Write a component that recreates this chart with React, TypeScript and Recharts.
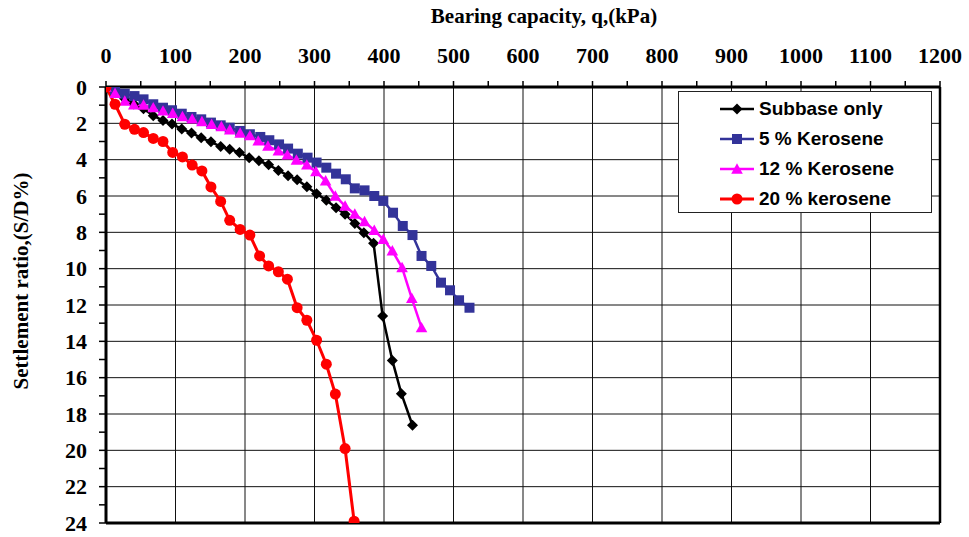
import React from 'react'
import { LineChart, Line, XAxis, YAxis, CartesianGrid, ReferenceLine } from 'recharts'

// bearing capacity q (kPa) / settlement ratio S/D (%)
const subbaseQ = [0, 14, 27, 40, 54, 68, 82, 95, 109, 123, 137, 151, 165, 178, 192, 206, 220, 234, 248, 262, 275, 289, 303, 317, 331, 344, 358, 371, 385, 398, 412, 425, 441]
const subbaseS = [0, 0.3, 0.65, 0.94, 1.2, 1.58, 1.85, 2.04, 2.31, 2.53, 2.8, 3.02, 3.28, 3.42, 3.6, 3.9, 4.06, 4.28, 4.59, 4.88, 5.1, 5.49, 5.87, 6.23, 6.64, 7.0, 7.52, 8.02, 8.6, 12.6, 15.05, 16.88, 18.62]

const k5Q = [0, 13, 27, 41, 54, 68, 82, 95, 109, 123, 137, 151, 165, 178, 193, 207, 222, 235, 249, 262, 276, 290, 303, 317, 331, 345, 358, 372, 386, 399, 413, 427, 441, 454, 468, 482, 495, 508, 523]
const k5S = [0, 0.18, 0.37, 0.5, 0.68, 0.95, 1.14, 1.28, 1.47, 1.65, 1.78, 1.96, 2.11, 2.24, 2.42, 2.6, 2.75, 2.93, 3.16, 3.39, 3.67, 3.89, 4.16, 4.44, 4.77, 5.08, 5.58, 5.69, 6.0, 6.27, 6.92, 7.65, 8.15, 9.3, 9.85, 10.77, 11.19, 11.74, 12.15]

const k12Q = [0, 13, 27, 40, 54, 68, 82, 96, 110, 124, 138, 152, 166, 178, 193, 207, 219, 233, 248, 261, 274, 289, 302, 316, 330, 344, 358, 372, 386, 399, 412, 426, 440, 454]
const k12S = [0, 0.35, 0.78, 0.98, 1.0, 1.14, 1.32, 1.45, 1.63, 1.76, 1.9, 2.05, 2.18, 2.36, 2.54, 2.68, 2.97, 3.25, 3.52, 3.74, 4.02, 4.29, 4.66, 5.17, 6.0, 6.55, 7.0, 7.41, 7.89, 8.38, 9.02, 9.94, 11.63, 13.25]

const k20Q = [0, 13, 27, 41, 54, 68, 82, 96, 110, 124, 138, 151, 165, 178, 193, 207, 221, 234, 248, 261, 275, 289, 303, 317, 330, 344, 357]
const k20S = [0, 0.95, 2.05, 2.33, 2.51, 2.83, 3.0, 3.6, 3.85, 4.3, 4.62, 5.5, 6.3, 7.34, 7.84, 8.15, 9.3, 9.85, 10.17, 10.58, 12.15, 12.84, 13.94, 15.26, 16.9, 19.9, 23.9]

const xTicks = [0, 50, 100, 150, 200, 250, 300, 350, 400, 450, 500, 550, 600, 650, 700, 750, 800, 850, 900, 950, 1000, 1050, 1100, 1150, 1200]
const yTicks = [0, 1, 2, 3, 4, 5, 6, 7, 8, 9, 10, 11, 12, 13, 14, 15, 16, 17, 18, 19, 20, 21, 22, 23, 24]
const gridX = [100, 200, 300, 400, 500, 600, 700, 800, 900, 1000, 1100]
const gridY = [2, 4, 6, 8, 10, 12, 14, 16, 18, 20, 22]

const pair = (q: number[], s: number[]) => q.map((v, i) => ({ q: v, s: s[i] }))

const C = { black: '#000000', blue: '#333399', pink: '#ff00ff', red: '#ff0000' }
const serif = '"Liberation Serif", "Times New Roman", serif'
const sans = '"Liberation Sans", Arial, sans-serif'

const diamond = (color: string, r = 5.5) => (p: any) => (
  <polygon key={p.index} points={`${p.cx},${p.cy - r} ${p.cx + r},${p.cy} ${p.cx},${p.cy + r} ${p.cx - r},${p.cy}`} fill={color} />
)
const square = (color: string, h = 5) => (p: any) => (
  <rect key={p.index} x={p.cx - h} y={p.cy - h} width={h * 2} height={h * 2} fill={color} />
)
const triangle = (color: string, h = 5.8) => (p: any) => (
  <polygon key={p.index} points={`${p.cx},${p.cy - h} ${p.cx + h},${p.cy + h * 0.8} ${p.cx - h},${p.cy + h * 0.8}`} fill={color} />
)
const circle = (color: string, r = 5.5) => (p: any) => (
  <circle key={p.index} cx={p.cx} cy={p.cy} r={r} fill={color} />
)

const series = [
  { name: 'Subbase only', data: pair(subbaseQ, subbaseS), color: C.black, dot: diamond, width: 2.5 },
  { name: '5 % Kerosene', data: pair(k5Q, k5S), color: C.blue, dot: square, width: 2.5 },
  { name: '12 % Kerosene', data: pair(k12Q, k12S), color: C.pink, dot: triangle, width: 2.5 },
  { name: '20 % kerosene', data: pair(k20Q, k20S), color: C.red, dot: circle, width: 3 },
]

function XTick(props: any) {
  const { x, y, payload } = props
  if (payload.value % 100 !== 0) return <g />
  return (
    <text x={x} y={y - 16} textAnchor="middle" fontFamily={serif} fontWeight="bold" fontSize={22} fill="#000">
      {payload.value}
    </text>
  )
}

function YTick(props: any) {
  const { x, y, payload } = props
  if (payload.value % 2 !== 0) return <g />
  return (
    <text x={x - 10} y={y} dy="0.35em" textAnchor="end" fontFamily={serif} fontWeight="bold" fontSize={22} fill="#000">
      {payload.value}
    </text>
  )
}

function LegendBox() {
  return (
    <div style={{
      position: 'absolute', left: 678, top: 91, width: 254, height: 122,
      border: '1.5px solid #222', background: '#fff', boxSizing: 'border-box',
    }}>
      {series.map((s, i) => {
        const Dot = s.dot(s.color)
        return (
          <div key={s.name} style={{ position: 'absolute', left: 40, top: 6 + i * 30, height: 22, display: 'flex', alignItems: 'center' }}>
            <svg width={36} height={22} style={{ marginRight: 4 }}>
              <line x1={1} y1={11} x2={35} y2={11} stroke={s.color} strokeWidth={s.width} />
              {Dot({ cx: 18, cy: 11, index: i })}
            </svg>
            <span style={{ fontFamily: sans, fontWeight: 'bold', fontSize: 19, color: '#000', whiteSpace: 'nowrap' }}>{s.name}</span>
          </div>
        )
      })}
    </div>
  )
}

export default function App() {
  return (
    <div style={{ position: 'absolute', left: 0, top: 0, width: 969, height: 537, background: '#fff' }}>
      <LineChart width={969} height={537} margin={{ top: 47, right: 29, bottom: 14, left: 46 }}>
        <CartesianGrid stroke="#111" strokeWidth={1} verticalValues={gridX} horizontalValues={gridY} />
        <XAxis
          type="number" dataKey="q" orientation="top" domain={[0, 1200]} ticks={xTicks} interval={0}
          height={40} tickSize={6} tickMargin={2} tick={XTick}
          axisLine={{ stroke: '#000', strokeWidth: 3 }} tickLine={{ stroke: '#000', strokeWidth: 1.5 }}
          allowDataOverflow
        />
        <YAxis
          type="number" dataKey="s" reversed domain={[0, 24]} ticks={yTicks} interval={0}
          width={60} tickSize={7} tickMargin={2} tick={YTick}
          axisLine={{ stroke: '#000', strokeWidth: 3 }} tickLine={{ stroke: '#000', strokeWidth: 1.5 }}
          allowDataOverflow
        />
        <ReferenceLine y={24} stroke="#000" strokeWidth={3} />
        <ReferenceLine x={1200} stroke="#000" strokeWidth={2.5} />
        {series.map(s => (
          <Line
            key={s.name} data={s.data} dataKey="s" name={s.name} type="linear"
            stroke={s.color} strokeWidth={s.width} dot={s.dot(s.color)} activeDot={false}
            isAnimationActive={false}
          />
        ))}
      </LineChart>
      <div style={{
        position: 'absolute', left: 544, top: 4, transform: 'translateX(-50%)',
        fontFamily: serif, fontWeight: 'bold', fontSize: 21, whiteSpace: 'nowrap', color: '#000',
      }}>
        Bearing capacity, q,(kPa)
      </div>
      <div style={{
        position: 'absolute', left: 21, top: 281, transform: 'translate(-50%, -50%) rotate(-90deg)',
        fontFamily: serif, fontWeight: 'bold', fontSize: 21, whiteSpace: 'nowrap', color: '#000',
      }}>
        Settlement ratio,(S/D%)
      </div>
      <LegendBox />
    </div>
  )
}
